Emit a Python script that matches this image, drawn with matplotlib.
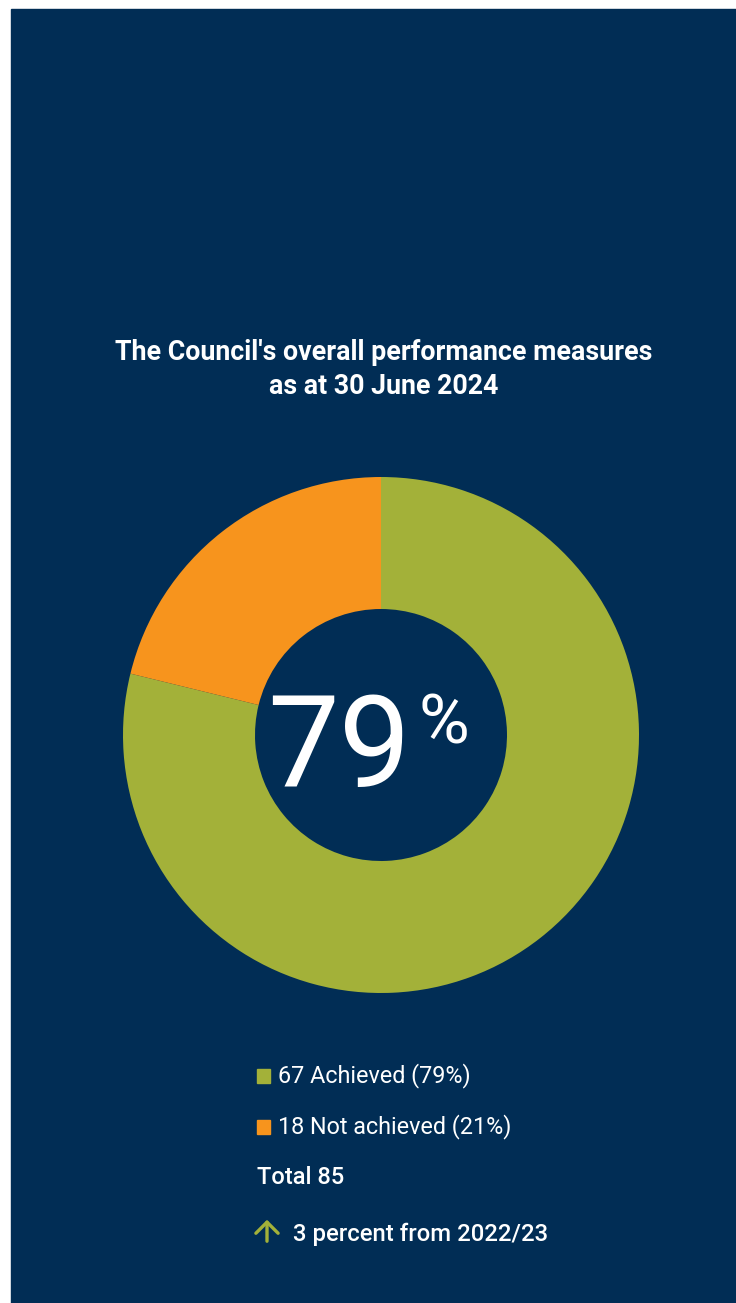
import matplotlib
matplotlib.use("Agg")
import matplotlib.pyplot as plt
from matplotlib.patches import Rectangle

# data
labels = ["Achieved", "Not achieved"]
counts = [67, 18]
colors = ["#A3B139", "#F7941D"]
total = sum(counts)
pct_change = 3
prev_year = "2022/23"

NAVY = "#012D55"
W, H = 736, 1303

plt.rcParams['font.family'] = ['Roboto', 'DejaVu Sans']

fig = plt.figure(figsize=(W / 100, H / 100), dpi=100, facecolor="white")
# navy panel
fig.add_artist(Rectangle((11 / W, 0), 1 - 11 / W, (H - 9) / H,
                         transform=fig.transFigure, color=NAVY, zorder=0))

def fx(px):
    return px / W

def fy(py):
    return 1 - py / H

# donut
cx, cy, r = 381, 735, 258
ax = fig.add_axes([fx(cx - r), fy(cy + r), 2 * r / W, 2 * r / H])
ax.pie(counts, colors=colors, startangle=90, counterclock=False, radius=1,
       wedgeprops=dict(width=1 - 126 / 258, linewidth=0))
ax.set_xlim(-1, 1)
ax.set_ylim(-1, 1)
ax.set_aspect("equal")
ax.axis("off")

# title
fig.text(fx(384), fy(352), "The Council's overall performance measures",
         color="white", fontsize=19.3, fontweight="bold", ha="center", va="center")
fig.text(fx(384), fy(386), "as at 30 June 2024",
         color="white", fontsize=19.3, fontweight="bold", ha="center", va="center")

# centre figure
pct = round(100 * counts[0] / total)
fig.text(fx(411), fy(787), f"{pct}", color="white", fontsize=92,
         fontweight="normal", ha="right", va="baseline")
fig.text(fx(418), fy(743), "%", color="white", fontsize=50,
         fontweight="normal", ha="left", va="baseline")

# legend
rows_y = [1076, 1127]
for i, (lab, n, c) in enumerate(zip(labels, counts, colors)):
    y = rows_y[i]
    fig.add_artist(Rectangle((fx(257), fy(y + 7)), 13 / W, 14 / H,
                             transform=fig.transFigure, color=c))
    fig.text(fx(278), fy(y), f"{n} {lab} ({round(100 * n / total)}%)",
             color="white", fontsize=16.8, ha="left", va="center")

fig.text(fx(257), fy(1177), f"Total {total}", color="white", fontsize=17,
         fontweight="medium", ha="left", va="center")

ax_arrow = fig.add_axes([0, 0, 1, 1], facecolor="none")
ax_arrow.set_xlim(0, W)
ax_arrow.set_ylim(H, 0)
ax_arrow.axis("off")
ax_arrow.annotate("", xy=(267, 1217), xytext=(267, 1244),
                  arrowprops=dict(arrowstyle="->,head_length=0.4,head_width=0.4",
                                  mutation_scale=20, color=colors[0], lw=2.4))
fig.text(fx(293), fy(1234), f"{pct_change} percent from {prev_year}",
         color="white", fontsize=17.2, fontweight="medium", ha="left", va="center")

fig.savefig("out.png", dpi=100, facecolor="white")
